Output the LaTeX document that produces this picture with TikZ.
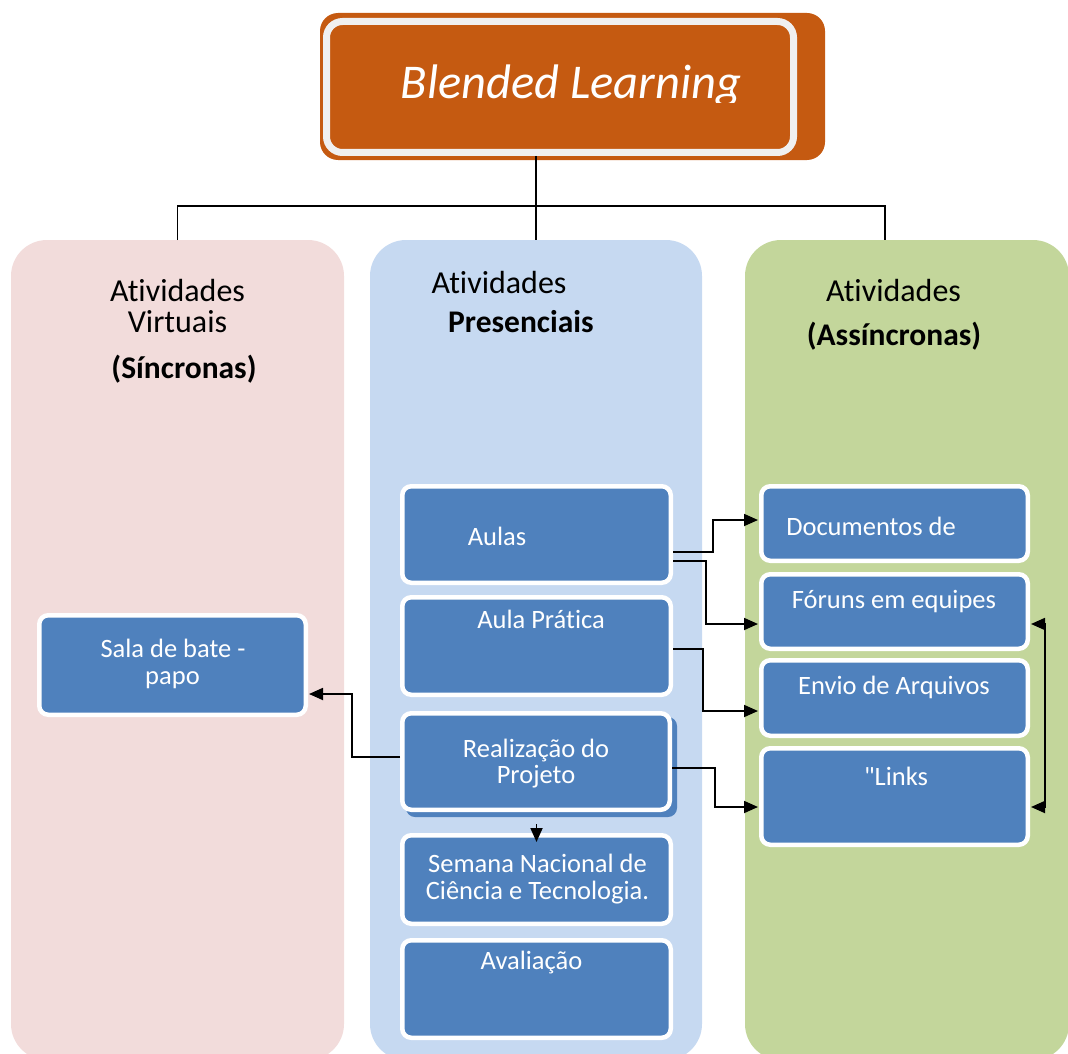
\documentclass[tikz,border=0pt]{standalone}
\usepackage{fontspec}
\setmainfont{Carlito}[Ligatures={TeX,NoCommon}]
\usetikzlibrary{arrows.meta}

\definecolor{titleorange}{HTML}{C55A11}
\definecolor{titleframe}{HTML}{F0F0F0}
\definecolor{syncpink}{HTML}{F2DCDB}
\definecolor{presblue}{HTML}{C6D9F1}
\definecolor{asyncgreen}{HTML}{C3D69B}
\definecolor{cardblue}{HTML}{4F81BD}

\begin{document}
\begin{tikzpicture}[x=1pt,y=-1pt,
  lane/.style={fill=#1, rounded corners=36pt, inner sep=0pt, outer sep=0pt},
  card/.style={draw=white, line width=4.5pt, fill=cardblue, rounded corners=9pt, inner sep=0pt},
  cardtext/.style={text=white, font=\fontsize{26.5}{27}\selectfont, anchor=base, inner sep=0pt},
  headtext/.style={font=\fontsize{32}{32}\selectfont, anchor=base, inner sep=0pt},
  headbold/.style={headtext, font=\fontsize{31.5}{32}\selectfont\bfseries},
  branch/.style={line width=1.6pt},
  link/.style={line width=1.8pt, -{Triangle[length=14pt,width=12pt]}, shorten >=1pt},
  twoway/.style={line width=1.8pt, {Triangle[length=14pt,width=12pt]}-{Triangle[length=14pt,width=12pt]}, shorten >=1pt, shorten <=1pt}]

\useasboundingbox (0,0) rectangle (1068,1054);
\clip (0,0) rectangle (1068,1054);

% three activity lanes
\node[lane=syncpink,   minimum width=333pt, minimum height=820pt] (sync)  at (177.5,650) {};
\node[lane=presblue,   minimum width=332pt, minimum height=820pt] (pres)  at (536,650) {};
\node[lane=asyncgreen, minimum width=324pt, minimum height=820pt] (async) at (907,650) {};

% title block
\node[fill=titleorange, rounded corners=18pt, minimum width=505pt, minimum height=147pt, inner sep=0pt] (titleback) at (572.5,86.5) {};
\node[draw=titleframe, line width=7pt, fill=titleorange, rounded corners=16pt, minimum width=467pt, minimum height=131pt, inner sep=0pt] (title) at (560,87) {};
\begin{scope}
  \clip (300,0) rectangle (830,103);
  \node[text=white, font=\fontsize{48.5}{50}\selectfont\itshape, anchor=base, inner sep=0pt] (titletext) at (571,99) {Blended Learning};
\end{scope}

% branches from the title to the lanes
\coordinate (asynctop) at (885,240);
\draw[branch] (title.south -| pres.north) -- (pres.north);
\draw[branch] (sync.north) |- (asynctop |- 0,206) -- (asynctop);

% lane headings
\node[headtext] (synchA) at (177.5,301) {Atividades};
\node[headtext] (synchB) at (177.5,332) {Virtuais};
\node[headbold] (synchC) at (184,378) {(Síncronas)};
\node[headtext] (presA) at (499,293) {Atividades};
\node[headbold] (presB) at (521,332) {Presenciais};
\node[headtext] (asyncA) at (893.5,301) {Atividades};
\node[headbold] (asyncB) at (894,345) {(Assíncronas)};

% presential activities
\node[card, minimum width=268.5pt, minimum height=96.5pt] (aulas) at (536.5,534.5) {};
\node[card, minimum width=268.5pt, minimum height=97.5pt] (pratica) at (536.5,646) {};
\fill[cardblue, rounded corners=9pt] (406,717) rectangle (677,817);
\node[card, minimum width=267.5pt, minimum height=96.5pt] (projeto) at (536,761.5) {};
\node[card, minimum width=268.5pt, minimum height=88.5pt] (semana) at (536.5,879.5) {};
\node[card, minimum width=268.5pt, minimum height=97.5pt] (avaliacao) at (536.5,989) {};

% synchronous activity
\node[card, minimum width=266.5pt, minimum height=99.5pt] (sala) at (172.5,665) {};

% asynchronous activities
\node[card, minimum width=266.5pt, minimum height=74.5pt] (docs) at (894.5,523.5) {};
\node[card, minimum width=266.5pt, minimum height=74.5pt] (foruns) at (894.5,611.5) {};
\node[card, minimum width=266.5pt, minimum height=75.5pt] (envio) at (894.5,698) {};
\node[card, minimum width=266.5pt, minimum height=96.5pt] (links) at (894.5,796.5) {};

% card labels
\node[cardtext] (aulasT) at (497,545) {Aulas};
\node[cardtext] (praticaT) at (541,628) {Aula Prática};
\node[cardtext] (projetoA) at (536,757) {Realização do};
\node[cardtext] (projetoB) at (536,783) {Projeto};
\node[cardtext] (semanaA) at (537.5,872) {Semana Nacional de};
\node[cardtext] (semanaB) at (537.5,899) {Ciência e Tecnologia.};
\node[cardtext] (avaliacaoT) at (531.5,969) {Avaliação};
\node[cardtext] (salaA) at (173,657) {Sala de bate -};
\node[cardtext] (salaB) at (172.5,684) {papo};
\node[cardtext] (docsT) at (871,535) {Documentos de};
\node[cardtext] (forunsT) at (894,608) {Fóruns em equipes};
\node[cardtext] (envioT) at (894,694) {Envio de Arquivos};
\node[cardtext] (linksT) at (896,785) {{\addfontfeature{Ligatures=TeXOff}"}Links};

% connectors
\draw[link] (aulas.east |- 0,552) -- (713,552) -- (713,520) -- (docs.west |- 0,520);
\draw[link] (aulas.east |- 0,561) -- (706,561) -- (706,624) -- (foruns.west |- 0,624);
\draw[link] (pratica.east |- 0,649) -- (703,649) -- (703,711) -- (envio.west |- 0,711);
\draw[link] (projeto.east |- 0,768) -- (715,768) -- (715,807) -- (links.west |- 0,807);
\draw[twoway] (foruns.east |- 0,624) -- (1045,624) -- (1045,807) -- (links.east |- 0,807);
\draw[link] (projeto.west |- 0,757) -- (352,757) -- (352,694) -- (sala.east |- 0,694);
\draw[link] ([yshift=-12pt]projeto.south -| semana.north) -- ([yshift=-10pt]semana.north);
\end{tikzpicture}
\end{document}
